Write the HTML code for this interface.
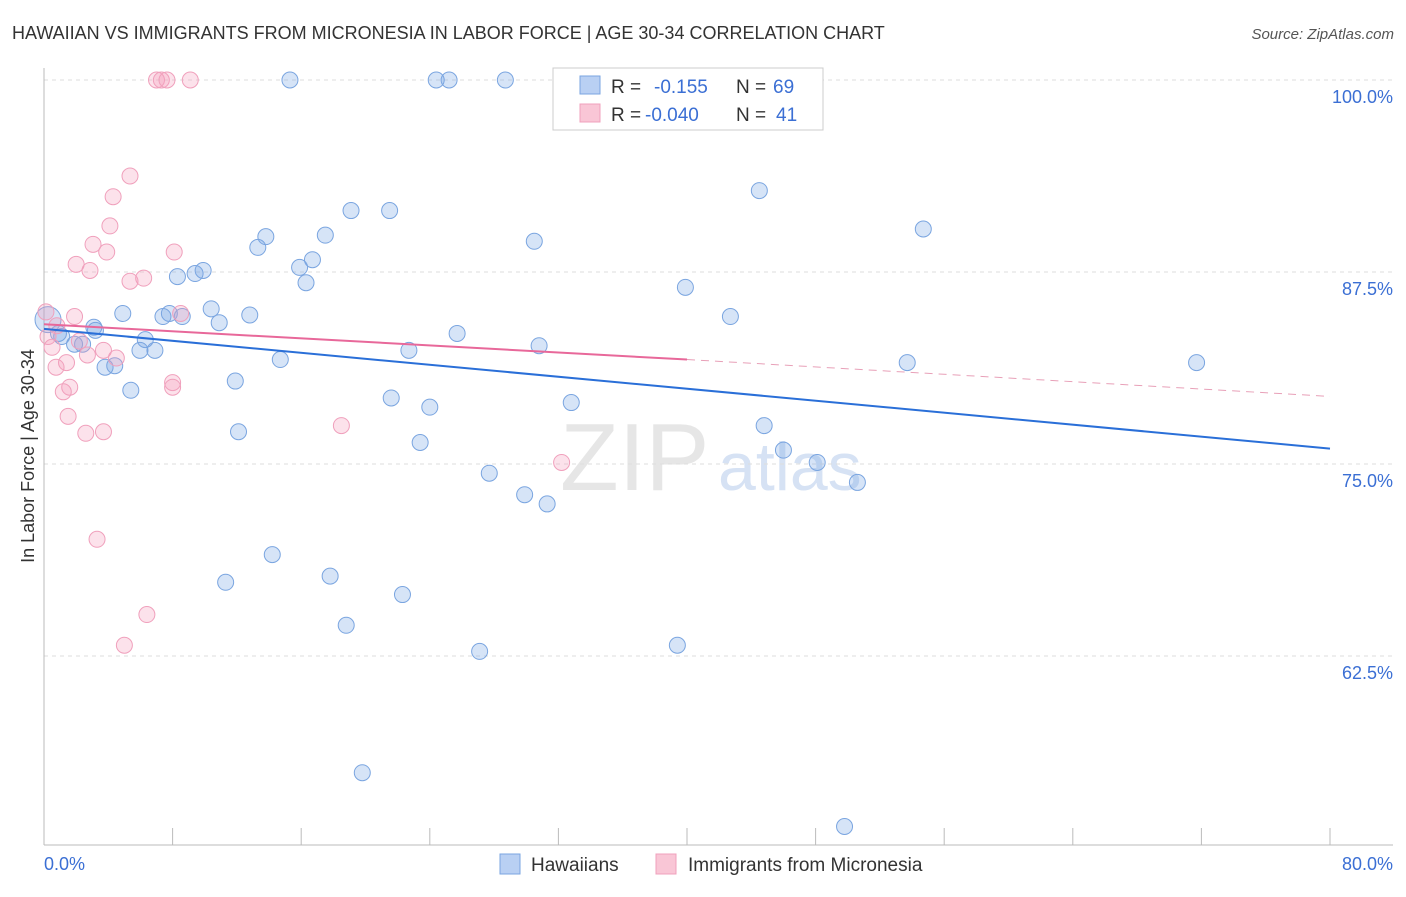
<!DOCTYPE html>
<html><head><meta charset="utf-8"><style>
body{margin:0;background:#fff;font-family:"Liberation Sans",sans-serif;}
svg text{font-family:"Liberation Sans",sans-serif;}
</style></head><body>
<svg id="c" width="1406" height="892">
<text x="12" y="39" font-size="18" fill="#333">HAWAIIAN VS IMMIGRANTS FROM MICRONESIA IN LABOR FORCE | AGE 30-34 CORRELATION CHART</text>
<text x="1394" y="39" font-size="15" fill="#555" font-style="italic" text-anchor="end">Source: ZipAtlas.com</text>
<text x="0" y="0" font-size="18" fill="#333" text-anchor="middle" transform="translate(34,456) rotate(-90)">In Labor Force | Age 30-34</text>
<text x="560" y="490" font-size="96" fill="#e6e6e6" font-family="Liberation Serif">ZIP</text>
<text x="718" y="490" font-size="68" fill="#d6e2f4">atlas</text>
<g id="grid"></g><g id="axes"></g><g id="marks"></g>
<g>
<rect x="553" y="68" width="270" height="62" fill="#fff" stroke="#ccc"/>
<rect x="580" y="76" width="20" height="18" fill="#b9d0f3" stroke="#7aa5e0"/>
<rect x="580" y="104" width="20" height="18" fill="#f9c6d6" stroke="#f0a0bc"/>
<text x="611" y="93" font-size="19" fill="#333">R =</text><text x="654" y="93" font-size="19" fill="#3b6fd4">-0.155</text>
<text x="736" y="93" font-size="19" fill="#333">N =</text><text x="773" y="93" font-size="19" fill="#3b6fd4">69</text>
<text x="611" y="121" font-size="19" fill="#333">R =</text><text x="645" y="121" font-size="19" fill="#3b6fd4">-0.040</text>
<text x="736" y="121" font-size="19" fill="#333">N =</text><text x="776" y="121" font-size="19" fill="#3b6fd4">41</text>
</g>
<g>
<rect x="500" y="854" width="20" height="20" fill="#b9d0f3" stroke="#7aa5e0"/>
<text x="531" y="871" font-size="19" fill="#333">Hawaiians</text>
<rect x="656" y="854" width="20" height="20" fill="#f9c6d6" stroke="#f0a0bc"/>
<text x="688" y="871" font-size="19" fill="#333">Immigrants from Micronesia</text>
</g>
</svg>
<script>
const yTicks=[100,87.5,75,62.5];
const yTickLabels=["100.0%","87.5%","75.0%","62.5%"];
const xTickLabels=["0.0%","80.0%"];
const blueX=[15.3,24.4,25.2,28.7,33.3,44.5,54.7,19.1,21.5,30.5,13.8,13.3,17.5,16.7,15.9,16.3,9.9,9.4,8.3,39.9,10.4,7.8,8.6,4.9,7.4,12.8,10.9,42.7,25.7,3.1,3.2,0.9,1.1,6.3,1.9,2.4,30.8,5.97,6.9,22.7,14.7,53.7,71.7,3.8,4.4,11.9,5.4,21.6,24.0,32.8,12.1,44.8,23.4,46.0,48.1,27.7,50.6,29.9,31.3,14.2,11.3,17.8,22.3,18.8,27.1,39.4,19.8,49.8,0.25];
const blueY=[100,100,100,100,100,92.8,90.3,91.5,91.5,89.5,89.8,89.1,89.9,88.3,87.8,86.8,87.6,87.4,87.2,86.5,85.1,84.8,84.6,84.8,84.6,84.7,84.2,84.6,83.5,83.9,83.7,83.5,83.3,83.1,82.8,82.8,82.7,82.4,82.4,82.4,81.8,81.6,81.6,81.3,81.4,80.4,79.8,79.3,78.7,79.0,77.1,77.5,76.4,75.9,75.1,74.4,73.8,73.0,72.4,69.1,67.3,67.7,66.5,64.5,62.8,63.2,54.9,51.4,84.4];
const pinkX=[7.0,7.3,7.65,9.1,5.35,4.3,4.1,3.05,3.9,8.1,2.0,2.86,6.2,5.35,0.12,1.9,8.5,0.8,0.25,2.2,0.5,3.7,2.7,4.5,1.4,0.75,8.0,1.6,1.2,8.0,1.5,18.5,2.6,3.7,32.2,3.3,6.4,5.0];
const pinkY=[100,100,100,100,93.75,92.4,90.5,89.3,88.8,88.8,88.0,87.6,87.1,86.9,84.9,84.6,84.8,84.0,83.3,83.0,82.6,82.4,82.1,81.9,81.6,81.3,80.3,80.0,79.7,80.0,78.1,77.5,77.0,77.1,75.1,70.1,65.2,63.2];
const blueTrend=[[0,83.8],[80,76.0]];
const pinkTrend=[[0,84.1],[40,81.8],[80,79.4]];
const NS="http://www.w3.org/2000/svg";
const X=v=>44+v/80*1286, Y=v=>80+(100-v)/12.5*192;
function mk(t,a,p){const e=document.createElementNS(NS,t);for(const k in a)e.setAttribute(k,a[k]);p.appendChild(e);return e;}
const grid=document.getElementById('grid'),axes=document.getElementById('axes'),marks=document.getElementById('marks');
yTicks.forEach((t,i)=>{
 const l=mk('line',{x1:44,x2:1393,y1:Y(t),y2:Y(t),stroke:'#ddd','stroke-dasharray':'4,4'},grid);
 
 
 const tx=mk('text',{x:1393,y:Y(t)+23,'font-size':18,fill:'#3b6fd4','text-anchor':'end'},axes);
 tx.textContent=yTickLabels[i];
 
 
});
mk('line',{x1:44,x2:44,y1:68,y2:845,stroke:'#bbb'},axes);
mk('line',{x1:44,x2:1393,y1:845,y2:845,stroke:'#bbb'},axes);
for(let i=0;i<=10;i++){const l=mk('line',{x1:X(i*8),x2:X(i*8),y1:828,y2:845,stroke:'#bbb'},axes);
 
 }
const xl0=mk('text',{x:44,y:870,'font-size':18,fill:'#3b6fd4'},axes);xl0.textContent=xTickLabels[0];


const xl1=mk('text',{x:1393,y:870,'font-size':18,fill:'#3b6fd4','text-anchor':'end'},axes);xl1.textContent=xTickLabels[1];


blueX.forEach((v,i)=>{const c=mk('circle',{cx:X(v),cy:Y(blueY[i]),r:i==blueX.length-1?13:8,fill:'rgba(120,165,230,0.3)',stroke:'#7aa5e0','stroke-width':1},marks);
 
 });
pinkX.forEach((v,i)=>{const c=mk('circle',{cx:X(v),cy:Y(pinkY[i]),r:8,fill:'rgba(245,160,190,0.3)',stroke:'#f0a0bc','stroke-width':1},marks);
 
 });
const bt=mk('line',{x1:X(blueTrend[0][0]),y1:Y(blueTrend[0][1]),x2:X(blueTrend[1][0]),y2:Y(blueTrend[1][1]),stroke:'#2a6fd8','stroke-width':2},marks);


const pt=mk('line',{x1:X(pinkTrend[0][0]),y1:Y(pinkTrend[0][1]),x2:X(pinkTrend[1][0]),y2:Y(pinkTrend[1][1]),stroke:'#e8689a','stroke-width':2},marks);


const pd=mk('line',{x1:X(pinkTrend[1][0]),y1:Y(pinkTrend[1][1]),x2:X(pinkTrend[2][0]),y2:Y(pinkTrend[2][1]),stroke:'#e8a0b8','stroke-width':1,'stroke-dasharray':'8,6'},marks);


</script>
</body></html>
